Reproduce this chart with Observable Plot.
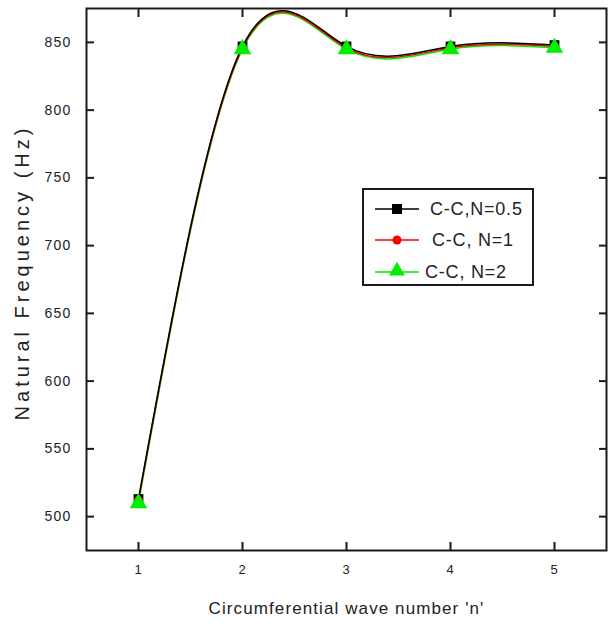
<!DOCTYPE html>
<html>
<head>
<meta charset="utf-8">
<script src="https://cdn.jsdelivr.net/npm/d3@7"></script>
<script src="https://cdn.jsdelivr.net/npm/@observablehq/plot@0.6"></script>
<style>
  body { margin: 0; background: #fff; }
  #wrap { position: relative; width: 609px; height: 625px; }
  #legend { position: absolute; left: 362px; top: 188px; }
  text { font-family: "Liberation Sans", Arial, sans-serif; }
</style>
</head>
<body>
<div id="wrap"></div>
<script>
const n = [1, 2, 3, 4, 5];
const fN05 = [513, 847, 847, 847, 848];
const fN1 = [512, 846, 846, 846, 847];
const fN2 = [510, 845, 845, 845, 846];
const seriesNames = ["C-C,N=0.5", "C-C, N=1", "C-C, N=2"];
const seriesColors = ["#000000", "#ff0000", "#00ee00"];
const xTicks = [1, 2, 3, 4, 5];
const yTicks = [500, 550, 600, 650, 700, 750, 800, 850];
const xTitle = "Circumferential wave number 'n'";
const yTitle = "Natural Frequency (Hz)";

const allSeries = [fN05, fN1, fN2];
const rows = allSeries.flatMap((vals, si) => vals.map((v, i) => ({n: n[i], f: v, s: seriesNames[si]})));
const bySeries = seriesNames.map(name => rows.filter(r => r.s === name));

const blank = () => "";
const marks = [
  Plot.frame({stroke: "#1a1a1a", strokeWidth: 2}),
  Plot.axisX({ticks: xTicks, tickSize: -8, tickFormat: blank, stroke: "#1a1a1a", strokeWidth: 2, label: null}),
  Plot.axisX({ticks: xTicks, anchor: "top", tickSize: -8, tickFormat: blank, stroke: "#1a1a1a", strokeWidth: 2, label: null}),
  Plot.axisY({ticks: yTicks, tickSize: -8, tickFormat: blank, stroke: "#1a1a1a", strokeWidth: 2, label: null}),
  Plot.axisY({ticks: yTicks, anchor: "right", tickSize: -8, tickFormat: blank, stroke: "#1a1a1a", strokeWidth: 2, label: null}),
  Plot.axisX({ticks: xTicks, tickSize: 0, tickPadding: 14, fontSize: 13, fill: "#222", label: null, tickFormat: d3.format("d")}),
  Plot.axisY({ticks: yTicks, tickSize: 0, tickPadding: 15, fontSize: 14, fill: "#222", label: null, tickFormat: d3.format("d")}),
  Plot.text([xTitle], {frameAnchor: "bottom", dy: 58, fontSize: 17, fill: "#222", lineAnchor: "middle", textAnchor: "middle"}),
  Plot.text([yTitle], {frameAnchor: "left", dx: -64, dy: -7, rotate: -90, fontSize: 20, fill: "#222", lineAnchor: "middle", textAnchor: "middle"})
];
// lines: green first, then red, black on top
[2, 1, 0].forEach(si => {
  marks.push(Plot.line(bySeries[si], {x: "n", y: "f", curve: "natural", stroke: seriesColors[si], strokeWidth: 1.5}));
});
// markers: black, red, green (green on top)
marks.push(Plot.dot(bySeries[0], {x: "n", y: "f", symbol: "square", r: 5.5, fill: seriesColors[0]}));
marks.push(Plot.dot(bySeries[1], {x: "n", y: "f", symbol: "circle", r: 4.5, fill: seriesColors[1]}));
marks.push(Plot.dot(bySeries[2], {x: "n", y: "f", symbol: "triangle", r: 6.5, fill: seriesColors[2]}));

const chart = Plot.plot({
  width: 609,
  height: 625,
  marginLeft: 86,
  marginRight: 3,
  marginTop: 8,
  marginBottom: 75,
  x: {domain: [0.5, 5.5]},
  y: {domain: [475, 875]},
  style: {fontFamily: "'Liberation Sans', Arial, sans-serif", background: "#fff"},
  marks
});
const wrap = document.getElementById("wrap");
wrap.appendChild(chart);

// letter spacing tweaks
const svg = d3.select(chart);
svg.selectAll('g[aria-label="y-axis tick label"] text').style("letter-spacing", "1.2px");
svg.selectAll('g[aria-label="x-axis tick label"] text').style("letter-spacing", "1px");
const textGroups = svg.selectAll('g[aria-label="text"]').nodes();
if (textGroups[0]) d3.select(textGroups[0]).selectAll("text").style("letter-spacing", "1.1px");
if (textGroups[1]) d3.select(textGroups[1]).selectAll("text").style("letter-spacing", "4px");

// Legend
const lw = 172, lh = 98;
const lg = d3.select(wrap).append("svg").attr("id", "legend").attr("width", lw + 2).attr("height", lh + 2);
lg.append("rect").attr("x", 1).attr("y", 1).attr("width", lw - 2).attr("height", lh - 2)
  .attr("fill", "#fff").attr("stroke", "#1a1a1a").attr("stroke-width", 2);
const rowY = [21, 52, 84];
const textX = [68, 70, 63];
seriesNames.forEach((name, i) => {
  const y = rowY[i];
  lg.append("line").attr("x1", 13).attr("x2", 57).attr("y1", y).attr("y2", y)
    .attr("stroke", seriesColors[i]).attr("stroke-width", 1.5);
  const sym = d3.symbol().type(i === 0 ? d3.symbolSquare : i === 1 ? d3.symbolCircle : d3.symbolTriangle)
    .size(i === 0 ? 100 : i === 1 ? 64 : 110);
  lg.append("path").attr("d", sym()).attr("transform", `translate(35,${i === 2 ? y - 1 : y})`).attr("fill", seriesColors[i]);
  lg.append("text").attr("x", textX[i]).attr("y", y).attr("dy", "0.36em")
    .attr("font-size", 18).attr("fill", "#222").style("letter-spacing", "0.8px").text(name);
});
</script>
</body>
</html>
